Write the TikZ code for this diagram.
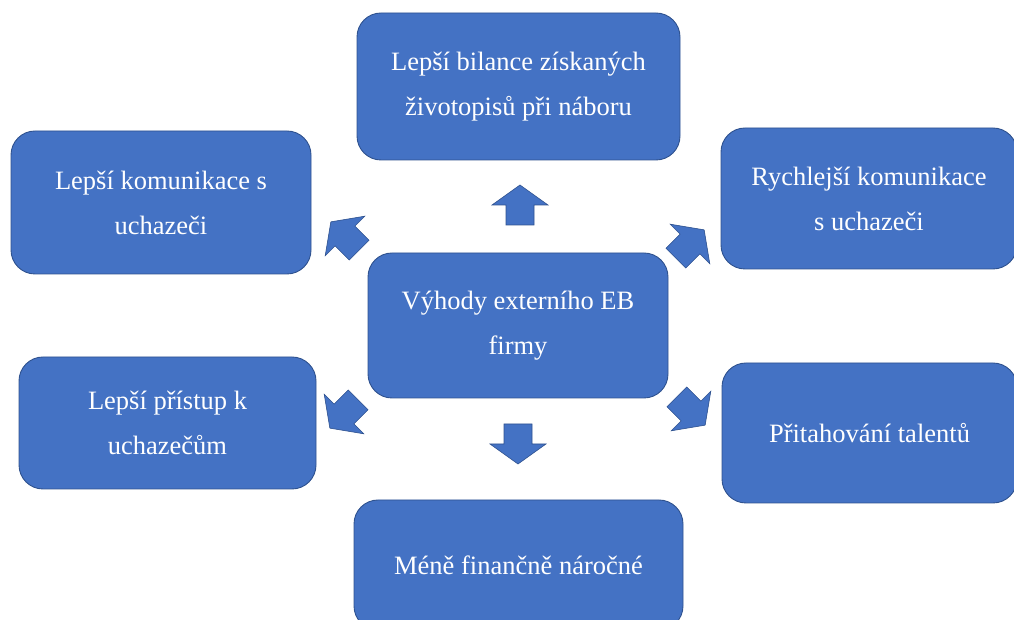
\documentclass[tikz,border=0pt]{standalone}
\usepackage{fontspec}
\setmainfont{Liberation Serif}
\definecolor{boxfill}{HTML}{4472C4}
\definecolor{boxline}{HTML}{2F528F}
\tikzset{
  box/.style={draw=boxline, line width=0.9pt, fill=boxfill, rounded corners=24pt,
    text=white, align=center, inner sep=0pt,
    font=\fontsize{26.5}{45}\selectfont},
  arrowstyle/.style={fill=boxfill, draw=boxline, line width=0.6pt, line join=miter},
  blockarrow/.pic={\path[arrowstyle] (-20pt,-14pt) -- (0pt,-14pt) -- (0pt,-28pt) -- (20pt,0pt) -- (0pt,28pt) -- (0pt,14pt) -- (-20pt,14pt) -- cycle;}
}
\begin{document}
\begin{tikzpicture}[x=1pt,y=1pt]
\useasboundingbox (0,0) rectangle (1014,620);
\clip (0,0) rectangle (1014,620);
\node[box, minimum width=300pt, minimum height=145pt] (center) at (518,294.5) {Výhody externího EB\\firmy};
\node[box, minimum width=323pt, minimum height=147pt] (top) at (518.5,533.5) {Lepší bilance získaných\\životopisů při náboru};
\node[box, minimum width=300pt, minimum height=143pt] (lefttop) at (161,417.5) {Lepší komunikace s\\uchazeči};
\node[box, minimum width=296pt, minimum height=141pt] (righttop) at (869,421.5) {Rychlejší komunikace\\s uchazeči};
\node[box, minimum width=297pt, minimum height=132pt] (leftbot) at (167.5,197) {Lepší přístup k\\uchazečům};
\node[box, minimum width=295pt, minimum height=140pt] (rightbot) at (869.5,187) {Přitahování talentů};
\node[box, minimum width=329pt, minimum height=130pt] (bottom) at (518.5,55) {Méně finančně náročné};
\pic[rotate=90] (aup) at (520,415) {blockarrow};
\pic[rotate=-90] (adown) at (518,176) {blockarrow};
\pic[rotate=135] (aul) at (345,384) {blockarrow};
\pic[rotate=45] (aur) at (690,376) {blockarrow};
\pic[rotate=225] (all) at (344,206) {blockarrow};
\pic[rotate=-45] (alr) at (691,209) {blockarrow};
\end{tikzpicture}
\end{document}
